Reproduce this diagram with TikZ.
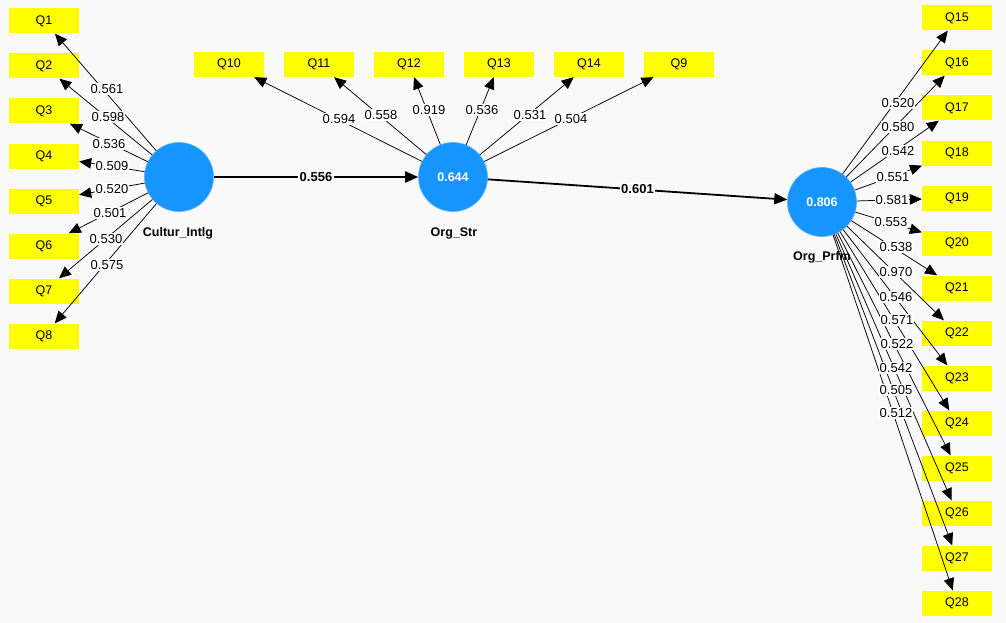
\documentclass[tikz,border=0pt]{standalone}
\usepackage{fontspec}
\setmainfont{Liberation Sans}
\usetikzlibrary{arrows.meta}
\definecolor{bgc}{RGB}{249,249,249}
\definecolor{lvblue}{RGB}{22,148,255}
\definecolor{lvedge}{RGB}{90,175,255}
\definecolor{indy}{RGB}{255,255,0}
\begin{document}
\begin{tikzpicture}[x=1pt,y=-1pt,
  ind/.style={fill=indy, minimum width=70pt, minimum height=25pt, inner sep=0pt, font=\fontsize{12.5}{13}\selectfont},
  lv/.style={circle, fill=lvblue, draw=lvedge, line width=0.6pt, minimum size=69pt, inner sep=0pt, text=white, font=\bfseries\fontsize{12.5}{13}\selectfont},
  lvname/.style={font=\bfseries\fontsize{12.5}{13}\selectfont},
  ld/.style={-{Triangle[length=12pt,width=10.5pt]}, line width=0.75pt},
  strc/.style={-{Triangle[length=13pt,width=11pt]}, line width=1.8pt},
  wt/.style={fill=white, inner sep=1pt, font=\fontsize{13}{13}\selectfont},
  wtb/.style={fill=white, inner sep=1.5pt, font=\bfseries\fontsize{13}{13}\selectfont}
]
\fill[bgc] (0,0) rectangle (1006,623);
\useasboundingbox (0,0) rectangle (1006,623);

% latent variables
\node[lv] (ci) at (179,177) {};
\node[lv] (os) at (453,177) {0.644};
\node[lv] (op) at (822,202) {0.806};
\node[lvname] (nci) at (178,233) {Cultur\_Intlg};
\node[lvname] (nos) at (454,233) {Org\_Str};
\node[lvname] (nop) at (822,257) {Org\_Prfm};

% indicators
\foreach \i in {1,...,8} \node[ind] (q\i) at (44,{21+45*(\i-1)}) {Q\i};
\foreach \n/\x in {10/229,11/319,12/409,13/499,14/589,9/679} \node[ind] (q\n) at (\x,64.5) {Q\n};
\foreach \i in {15,...,28} \node[ind] (q\i) at (957,{18+45*(\i-15)}) {Q\i};

% outer loadings: Cultur_Intlg
\foreach \i/\v/\lx/\ly in {1/0.561/107/89, 2/0.598/108/117, 3/0.536/109/144, 4/0.509/112/166, 5/0.520/112/189, 6/0.501/110/213, 7/0.530/106/239, 8/0.575/107/265}
  {\draw[ld] (ci) -- (q\i);}
\foreach \i/\v/\lx/\ly in {1/0.561/107/89, 2/0.598/108/117, 3/0.536/109/144, 4/0.509/112/166, 5/0.520/112/189, 6/0.501/110/213, 7/0.530/106/239, 8/0.575/107/265}
  {\node[wt] (l\i) at (\lx,\ly) {\v};}

% outer loadings: Org_Str
\foreach \n/\v/\lx/\ly in {10/0.594/339/119, 11/0.558/381/115, 12/0.919/429/110, 13/0.536/482/110, 14/0.531/530/115, 9/0.504/571/119}
  {\draw[ld] (os) -- (q\n);}
\foreach \n/\v/\lx/\ly in {10/0.594/339/119, 11/0.558/381/115, 12/0.919/429/110, 13/0.536/482/110, 14/0.531/530/115, 9/0.504/571/119}
  {\node[wt] (l\n) at (\lx,\ly) {\v};}

% outer loadings: Org_Prfm
\foreach \i/\v/\lx/\ly in {15/0.520/898/103, 16/0.580/898/127, 17/0.542/898/151, 18/0.551/893/177, 19/0.581/892/200, 20/0.553/891/222, 21/0.538/896/247, 22/0.970/896/272, 23/0.546/896/297, 24/0.571/897/320, 25/0.522/897/344, 26/0.542/896/368, 27/0.505/896/390, 28/0.512/896/413}
  {\draw[ld] (op) -- (q\i);}
\foreach \i/\v/\lx/\ly in {15/0.520/898/103, 16/0.580/898/127, 17/0.542/898/151, 18/0.551/893/177, 19/0.581/892/200, 20/0.553/891/222, 21/0.538/896/247, 22/0.970/896/272, 23/0.546/896/297, 24/0.571/897/320, 25/0.522/897/344, 26/0.542/896/368, 27/0.505/896/390, 28/0.512/896/413}
  {\node[wt] (l\i) at (\lx,\ly) {\v};}

% structural paths
\draw[strc] (ci) -- node[wtb] (p1) {0.556} (os);
\draw[strc] (os) -- node[wtb, pos=0.5] (p2) {0.601} (op);
\end{tikzpicture}
\end{document}
